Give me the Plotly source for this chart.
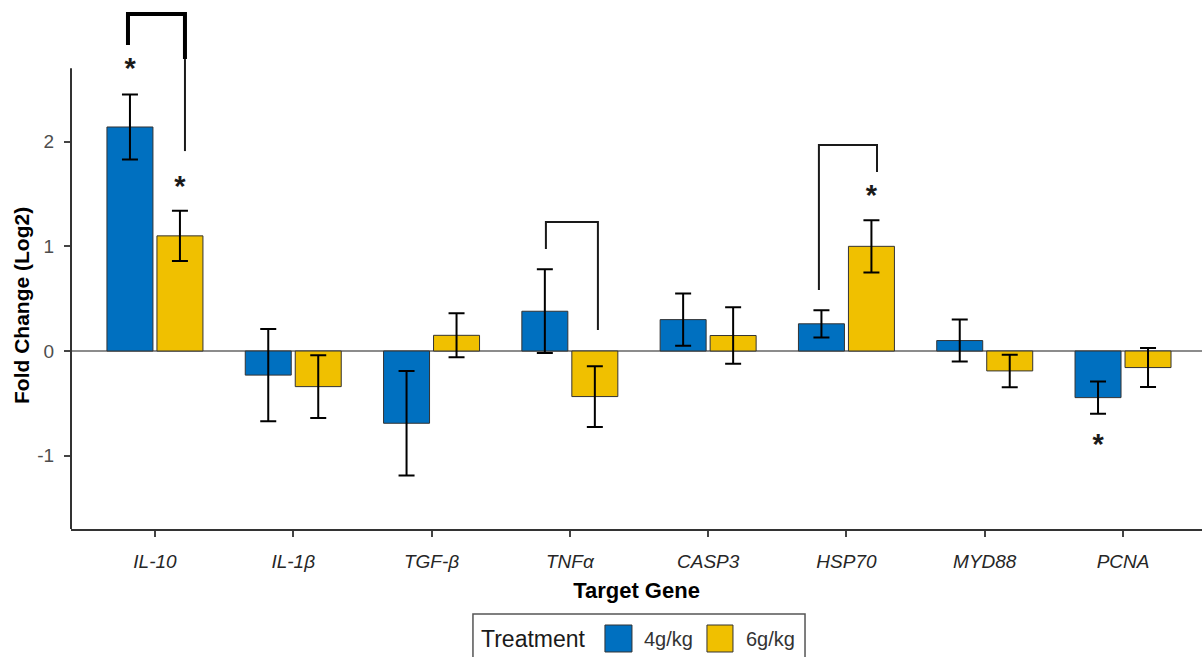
import plotly.graph_objects as go

# ---- data ----
genes = ["IL-10", "IL-1β", "TGF-β", "TNFα", "CASP3", "HSP70", "MYD88", "PCNA"]
fc_4g = [2.14, -0.23, -0.69, 0.38, 0.30, 0.26, 0.10, -0.445]
err_4g = [0.31, 0.44, 0.50, 0.40, 0.25, 0.13, 0.20, 0.153]
fc_6g = [1.10, -0.34, 0.15, -0.435, 0.148, 1.00, -0.19, -0.158]
err_6g = [0.24, 0.30, 0.21, 0.29, 0.27, 0.25, 0.155, 0.186]
y_tick_vals = [-1, 0, 1, 2]
y_tick_text = ["-1", "0", "1", "2"]

# significance asterisks (gene index, x offset, y)
star_gene = [0, 0, 5, 7]
star_offset = [-0.18, 0.18, 0.18, -0.18]
star_y = [2.68, 1.55, 1.46, -0.91]

# brackets: gene index, left/right x offsets, left-bottom y, top y, right-bottom y
br_gene = [3, 5]
br_left = [-0.173, -0.199]
br_right = [0.203, 0.221]
br_lbottom = [0.974, 0.583]
br_top = [1.232, 1.968]
br_rbottom = [0.201, 1.710]
# IL-10 bracket (thick upper part + thin lower extension)
il10_left, il10_right = -0.195, 0.217
il10_lbottom, il10_top, il10_rmid, il10_rbottom = 2.923, 3.219, 2.789, 1.910

BLUE = "#0070C0"
YELLOW = "#F0C000"
FONT = "Liberation Sans, Arial, sans-serif"

xs = list(range(len(genes)))

fig = go.Figure()
fig.add_trace(go.Bar(
    x=xs, y=fc_4g, name="4g/kg",
    marker=dict(color=BLUE, line=dict(color="#333333", width=1)),
    error_y=dict(type="data", array=err_4g, color="black", thickness=2, width=8),
    showlegend=False,
))
fig.add_trace(go.Bar(
    x=xs, y=fc_6g, name="6g/kg",
    marker=dict(color=YELLOW, line=dict(color="#333333", width=1)),
    error_y=dict(type="data", array=err_6g, color="black", thickness=2, width=8),
    showlegend=False,
))

# brackets
for g, l, r, lb, t, rb in zip(br_gene, br_left, br_right, br_lbottom, br_top, br_rbottom):
    fig.add_trace(go.Scatter(
        x=[g + l, g + l, g + r, g + r], y=[lb, t, t, rb], mode="lines",
        line=dict(color="#1a1a1a", width=2), showlegend=False, hoverinfo="skip",
    ))
fig.add_trace(go.Scatter(
    x=[il10_left, il10_left, il10_right, il10_right],
    y=[il10_lbottom, il10_top, il10_top, il10_rmid], mode="lines",
    line=dict(color="black", width=4), showlegend=False, hoverinfo="skip",
))
fig.add_trace(go.Scatter(
    x=[il10_right, il10_right], y=[il10_rmid, il10_rbottom], mode="lines",
    line=dict(color="#1a1a1a", width=2), showlegend=False, hoverinfo="skip",
))

# asterisks
fig.add_trace(go.Scatter(
    x=[g + o for g, o in zip(star_gene, star_offset)], y=star_y,
    mode="text", text=["<b>*</b>"] * len(star_y), textposition="middle center",
    textfont=dict(family=FONT, size=29, color="#1a1a1a"),
    showlegend=False, hoverinfo="skip", cliponaxis=False,
))

# y axis line (ends at 2.7 like the reference)
fig.add_shape(type="line", xref="paper", yref="y", x0=0, x1=0, y0=-1.70, y1=2.70,
              line=dict(color="#333333", width=2))

# y axis title (centred on the drawn axis line, as in the reference)
fig.add_annotation(xref="paper", yref="paper", x=-0.0433, y=0.4216,
                   text="<b>Fold Change (Log2)</b>", textangle=-90, showarrow=False,
                   xanchor="center", yanchor="middle",
                   font=dict(family=FONT, size=21, color="black"))

# manual legend
fig.add_shape(type="rect", xref="paper", yref="paper", x0=0.3554, x1=0.6490,
              y0=-0.1607, y1=-0.2854, line=dict(color="#555555", width=1.5),
              fillcolor="white")
fig.add_shape(type="rect", xref="paper", yref="paper", x0=0.4721, x1=0.4960,
              y0=-0.1815, y1=-0.2325, line=dict(color="#333333", width=1), fillcolor=BLUE)
fig.add_shape(type="rect", xref="paper", yref="paper", x0=0.5623, x1=0.5853,
              y0=-0.1815, y1=-0.2325, line=dict(color="#333333", width=1), fillcolor=YELLOW)
fig.add_annotation(xref="paper", yref="paper", x=0.3610, y=-0.2079, text="Treatment",
                   showarrow=False, xanchor="left", yanchor="middle",
                   font=dict(family=FONT, size=23, color="#1a1a1a"))
fig.add_annotation(xref="paper", yref="paper", x=0.5050, y=-0.2079, text="4g/kg",
                   showarrow=False, xanchor="left", yanchor="middle",
                   font=dict(family=FONT, size=20, color="#333333"))
fig.add_annotation(xref="paper", yref="paper", x=0.5952, y=-0.2079, text="6g/kg",
                   showarrow=False, xanchor="left", yanchor="middle",
                   font=dict(family=FONT, size=20, color="#333333"))

fig.update_layout(
    width=1202, height=657,
    margin=dict(l=71, r=0, t=0, b=128),
    paper_bgcolor="white", plot_bgcolor="white",
    barmode="group", bargap=0.277, bargroupgap=0.08,
    font=dict(family=FONT),
    showlegend=False,
)
fig.update_xaxes(
    range=[-0.607, 7.571], tickmode="array", tickvals=xs,
    ticktext=[f"<i>{g}</i>" for g in genes],
    tickfont=dict(family=FONT, size=19, color="#262626"),
    showline=True, linecolor="#333333", linewidth=2,
    ticks="outside", ticklen=6, tickwidth=2, tickcolor="#444444",
    showgrid=False, zeroline=False, ticklabelstandoff=8, automargin=False,
    title=dict(text="<b>Target Gene</b>", font=dict(family=FONT, size=22, color="black"),
               standoff=12),
)
fig.update_yaxes(
    range=[-1.70, 3.353], tickmode="array", tickvals=y_tick_vals, ticktext=y_tick_text,
    tickfont=dict(family=FONT, size=19, color="#4d4d4d"),
    showline=False, ticks="outside", ticklen=6, tickwidth=2, tickcolor="#444444",
    showgrid=False, zeroline=True, zerolinecolor="#8c8c8c", zerolinewidth=1.5,
    ticklabelstandoff=6, automargin=False,
)

fig.write_html(
    "out.html",
    config={"displayModeBar": False},
    post_script="document.body.style.margin='0';document.body.style.overflow='hidden';",
)
